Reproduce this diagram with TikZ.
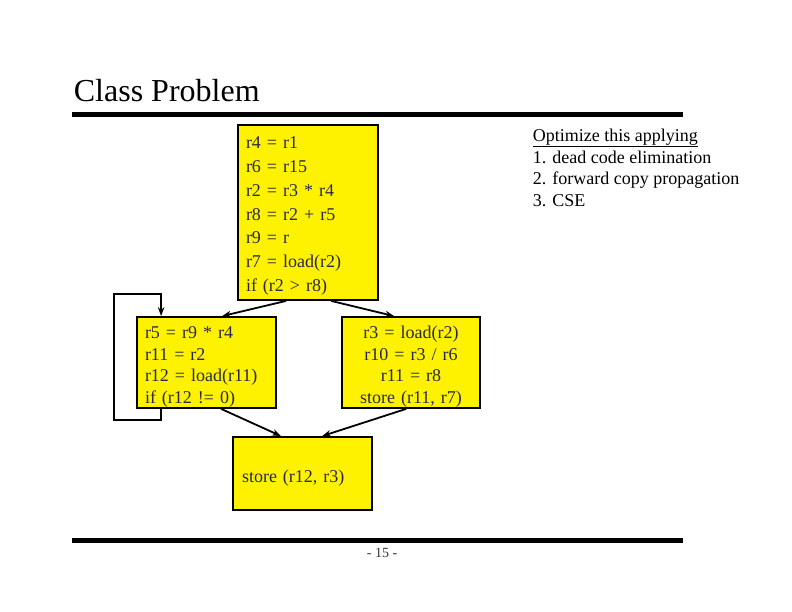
\documentclass[tikz,border=0pt]{standalone}
\usepackage{fontspec}
\setmainfont{Liberation Serif}
\usetikzlibrary{arrows.meta}
\definecolor{bbtext}{RGB}{40,40,78}
\tikzstyle{bb}=[shape=rectangle,
                draw=black,
                fill=yellow,
                text=bbtext,
                line width=1.8pt,
                inner ysep=0pt]
\tikzstyle{rule}=[line width=5pt]
\newcommand{\topgap}[1]{\rule{0pt}{#1}}

\begin{document}
\begin{tikzpicture}[x=1pt,y=-1pt,>={Stealth[length=9pt,width=6.5pt]},line width=1.8pt]
\useasboundingbox (0,0) rectangle (792,612);

% title and rules
\node[anchor=base west, inner sep=0pt, font=\fontsize{32}{36}\selectfont] (title) at (73,102) {Class Problem};
\draw[rule] (72,114.5) -- (683,114.5);
\draw[rule] (72,540.5) -- (683,540.5);
\node[font=\fontsize{14}{16}\selectfont, text=black!80] (page) at (382,553) {- 15 -};

% task
\node[anchor=north west, inner sep=0pt, align=left, font=\fontsize{18}{21.7}\selectfont] (task) at (532,128) {\underline{Optimize this applying}\\1. dead code elimination\\2. forward copy propagation\\3. CSE};

% basic blocks
\node[bb, text width=124pt, inner xsep=8pt, minimum height=175pt, align=left, font=\fontsize{18}{23.7}\selectfont] (b1) at (308,212.5) {\topgap{19pt}r4 = r1\\r6 = r15\\r2 = r3 * r4\\r8 = r2 + r5\\r9 = r\\r7 = load(r2)\\if (r2 > r8)};
\node[bb, text width=123pt, inner xsep=8pt, minimum height=91pt, align=left, font=\fontsize{18}{21.7}\selectfont] (b2) at (206.5,362.5) {\topgap{21pt}r5 = r9 * r4\\r11 = r2\\r12 = load(r11)\\if (r12 != 0)};
\node[bb, text width=122pt, inner xsep=8pt, minimum height=91pt, align=center, font=\fontsize{18}{21.7}\selectfont] (b3) at (411,362.5) {\topgap{21pt}r3 = load(r2)\\r10 = r3 / r6\\r11 = r8\\store (r11, r7)};
\node[bb, text width=121pt, inner xsep=9pt, minimum height=73pt, align=left, font=\fontsize{18}{21.7}\selectfont] (b4) at (302.5,473.5) {\topgap{22pt}store (r12, r3)};

% edges
\path[->] ([xshift=49pt]b1.south west) edge ([xshift=86pt]b2.north west)
          ([xshift=94pt]b1.south west) edge ([xshift=53pt]b3.north west)
          ([xshift=85pt]b2.south west) edge ([xshift=49pt]b4.north west)
          ([xshift=65pt]b3.south west) edge ([xshift=90pt]b4.north west);

% loop back
\coordinate (loop) at (114,294);
\draw[->] ([xshift=25pt]b2.south west) -- ++(0,11) -| (loop) -| ([xshift=25pt]b2.north west);
\end{tikzpicture}
\end{document}
